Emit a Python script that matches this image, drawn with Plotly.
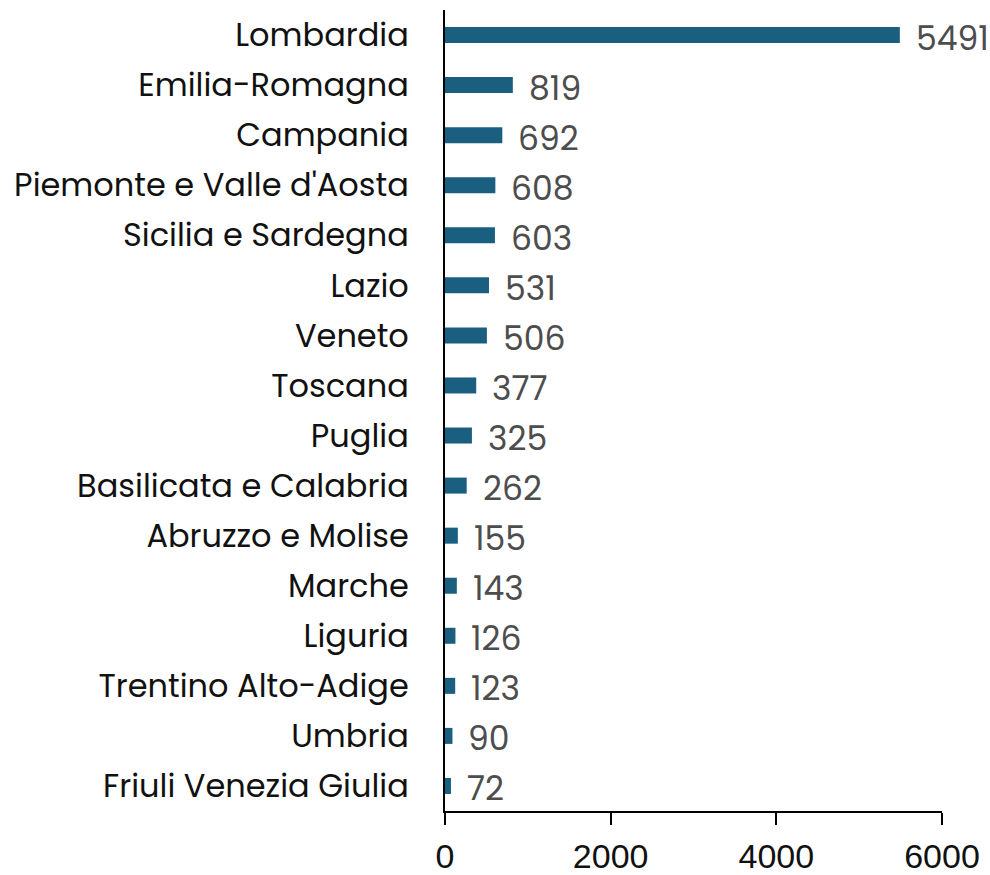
import plotly.graph_objects as go

regions = [
    "Lombardia", "Emilia-Romagna", "Campania", "Piemonte e Valle d'Aosta",
    "Sicilia e Sardegna", "Lazio", "Veneto", "Toscana", "Puglia",
    "Basilicata e Calabria", "Abruzzo e Molise", "Marche", "Liguria",
    "Trentino Alto-Adige", "Umbria", "Friuli Venezia Giulia",
]
values = [5491, 819, 692, 608, 603, 531, 506, 377, 325, 262, 155, 143, 126, 123, 90, 72]
x_ticks = [0, 2000, 4000, 6000]

bar_color = "#1a5f80"
label_font = "Poppins, Inter, Lato, sans-serif"

fig = go.Figure(
    go.Bar(
        x=values,
        y=regions,
        orientation="h",
        marker=dict(color=bar_color, line=dict(width=0)),
        width=0.32,
        hoverinfo="x+y",
    )
)

# value labels to the right of each bar
for r, v in zip(regions, values):
    fig.add_annotation(
        x=v, y=r, text=str(v), showarrow=False,
        xanchor="left", yanchor="middle", xshift=14, yshift=-3,
        font=dict(family=label_font, size=33, color="#4d4d4d"),
    )

fig.update_layout(
    width=990, height=875,
    margin=dict(l=445, r=48, t=10, b=64, autoexpand=False),
    plot_bgcolor="white", paper_bgcolor="white",
    showlegend=False,
    xaxis=dict(
        range=[0, 6000], tickvals=x_ticks, showgrid=False, zeroline=False,
        showline=True, linecolor="black", linewidth=1.5,
        ticks="outside", ticklen=12, tickwidth=1.5, tickcolor="black",
        ticklabelstandoff=2, automargin=False,
        tickfont=dict(family="Liberation Sans, Arial, sans-serif", size=34, color="#111111"),
    ),
    yaxis=dict(
        categoryorder="array", categoryarray=regions[::-1],
        range=[-0.5, len(regions) - 0.5],
        showgrid=False, zeroline=False, automargin=False,
        showline=True, linecolor="black", linewidth=1.5,
        ticks="", ticklabelstandoff=28,
        tickfont=dict(family=label_font, size=32, color="#111111"),
    ),
)

fig.write_html("out.html")
